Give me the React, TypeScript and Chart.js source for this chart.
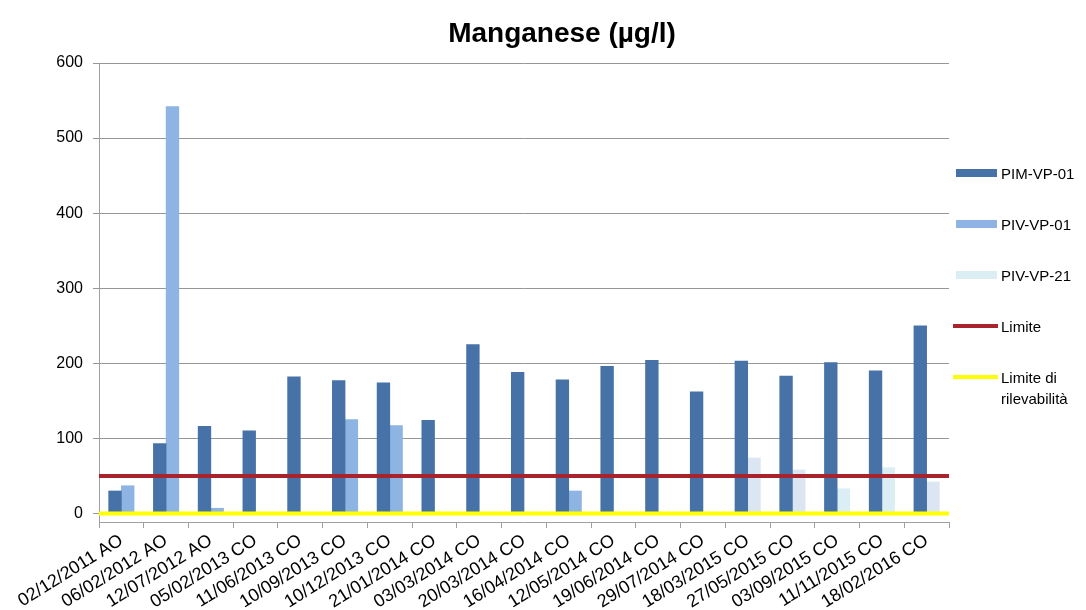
import React, { useEffect, useRef } from 'react';
import { Chart, registerables } from 'chart.js';

Chart.register(...registerables);

const categories = [
  '02/12/2011 AO', '06/02/2012 AO', '12/07/2012 AO', '05/02/2013 CO', '11/06/2013 CO',
  '10/09/2013 CO', '10/12/2013 CO', '21/01/2014 CO', '03/03/2014 CO', '20/03/2014 CO',
  '16/04/2014 CO', '12/05/2014 CO', '19/06/2014 CO', '29/07/2014 CO', '18/03/2015 CO',
  '27/05/2015 CO', '03/09/2015 CO', '11/11/2015 CO', '18/02/2016 CO',
];
const pimVp01 = [30, 93, 116, 110, 182, 177, 174, 124, 225, 188, 178, 196, 204, 162, 203, 183, 201, 190, 250];
const pivVp01 = [37, 542, 7, null, null, 125, 117, null, null, null, 30, null, null, null, null, null, null, null, null];
const pivVp21 = [null, null, null, null, null, null, null, null, null, null, null, null, null, null, 74, 58, 33, 61, 42];
const limite = 50;
const limiteRilevabilita = 0;
const yTickValues = [0, 100, 200, 300, 400, 500, 600];

const FONT = '"Liberation Sans", Arial, sans-serif';
const C_PIM = '#4672A8';
const C_PIV01 = '#8EB4E3';
const C_PIV21 = '#DAEEF3';
const C_PIV21_BARS = pivVp21.map((_, i) => (i === 16 || i === 17 ? '#DAEEF3' : '#DCE6F2'));
const C_LIM = '#A8232B';
const C_RIL = '#FFFF00';

const titlePlugin = {
  id: 'customTitle',
  afterDraw(chart: any) {
    const ctx = chart.ctx;
    ctx.save();
    ctx.font = `bold 28px ${FONT}`;
    ctx.fillStyle = '#000';
    ctx.textAlign = 'center';
    ctx.textBaseline = 'middle';
    ctx.fillText('Manganese (µg/l)', 562, 34);
    ctx.restore();
  },
};

export default function App() {
  const ref = useRef<HTMLCanvasElement | null>(null);

  useEffect(() => {
    if (!ref.current) return;
    const chart = new Chart(ref.current, {
      type: 'bar',
      data: {
        labels: categories,
        datasets: [
          {
            type: 'line',
            label: 'Limite di rilevabilità',
            data: [{ x: 0, y: limiteRilevabilita }, { x: 1, y: limiteRilevabilita }],
            xAxisID: 'x2',
            borderColor: C_RIL,
            borderWidth: 4,
            pointRadius: 0,
            order: 0,
          } as any,
          {
            type: 'line',
            label: 'Limite',
            data: [{ x: 0, y: limite }, { x: 1, y: limite }],
            xAxisID: 'x2',
            borderColor: C_LIM,
            borderWidth: 4,
            pointRadius: 0,
            order: 0,
          } as any,
          {
            label: 'PIM-VP-01',
            data: pimVp01,
            backgroundColor: C_PIM,
            stack: 'a',
            order: 1,
          },
          {
            label: 'PIV-VP-01',
            data: pivVp01,
            backgroundColor: C_PIV01,
            stack: 'b',
            order: 1,
          },
          {
            label: 'PIV-VP-21',
            data: pivVp21,
            backgroundColor: C_PIV21_BARS,
            stack: 'b',
            order: 1,
          },
        ],
      },
      options: {
        responsive: false,
        animation: false,
        layout: { padding: { left: 0, right: 137, top: 63, bottom: 0 } },
        datasets: { bar: { barThickness: 12.7 } },
        plugins: {
          legend: { display: false },
          title: { display: false },
          tooltip: { enabled: false },
        },
        scales: {
          x: {
            type: 'category',
            offset: true,
            grid: {
              display: true,
              drawOnChartArea: false,
              offset: true,
              tickLength: 6,
              color: '#A0A0A0',
            },
            border: { color: '#A0A0A0' },
            ticks: {
              autoSkip: false,
              minRotation: 32,
              maxRotation: 32,
              padding: 2,
              color: '#000',
              font: { family: FONT, size: 18 },
            },
            afterFit(scale: any) {
              scale.height = 88;
            },
          },
          x2: {
            type: 'linear',
            min: 0,
            max: 1,
            offset: false,
            display: false,
            grid: { offset: false },
          },
          y: {
            min: -11.3,
            max: 600,
            grid: { color: '#969696', tickLength: 6, tickColor: '#969696' },
            border: { color: '#A0A0A0' },
            ticks: {
              color: '#000',
              padding: 10,
              font: { family: FONT, size: 16 },
            },
            afterBuildTicks(scale: any) {
              scale.ticks = yTickValues.map((v) => ({ value: v }));
            },
            afterFit(scale: any) {
              scale.width = 99;
            },
          },
        },
      } as any,
      plugins: [titlePlugin],
    });
    return () => chart.destroy();
  }, []);

  const legendText: React.CSSProperties = {
    position: 'absolute',
    left: 1001,
    font: `15px ${FONT}`,
    color: '#000',
    lineHeight: '21px',
    whiteSpace: 'nowrap',
  };
  const items = [
    { label: 'PIM-VP-01', y: 173, kind: 'bar', color: C_PIM },
    { label: 'PIV-VP-01', y: 224, kind: 'bar', color: C_PIV01 },
    { label: 'PIV-VP-21', y: 275, kind: 'bar', color: C_PIV21 },
    { label: 'Limite', y: 326, kind: 'line', color: C_LIM },
    { label: 'Limite di\nrilevabilità', y: 377, kind: 'line', color: C_RIL },
  ];

  return (
    <div style={{ position: 'fixed', left: 0, top: 0, width: 1086, height: 610, background: '#fff' }}>
      <canvas ref={ref} width={1086} height={610} style={{ display: 'block' }} />
      {items.map((it) => (
        <React.Fragment key={it.label}>
          <div
            style={{
              position: 'absolute',
              left: it.kind === 'bar' ? 956 : 953,
              top: it.kind === 'bar' ? it.y - 4 : it.y - 2,
              width: it.kind === 'bar' ? 41 : 45,
              height: it.kind === 'bar' ? 8 : 4,
              background: it.color,
            }}
          />
          <div style={{ ...legendText, top: it.y - 10.5 }}>
            {it.label.split('\n').map((l, i) => (
              <div key={i}>{l}</div>
            ))}
          </div>
        </React.Fragment>
      ))}
    </div>
  );
}
